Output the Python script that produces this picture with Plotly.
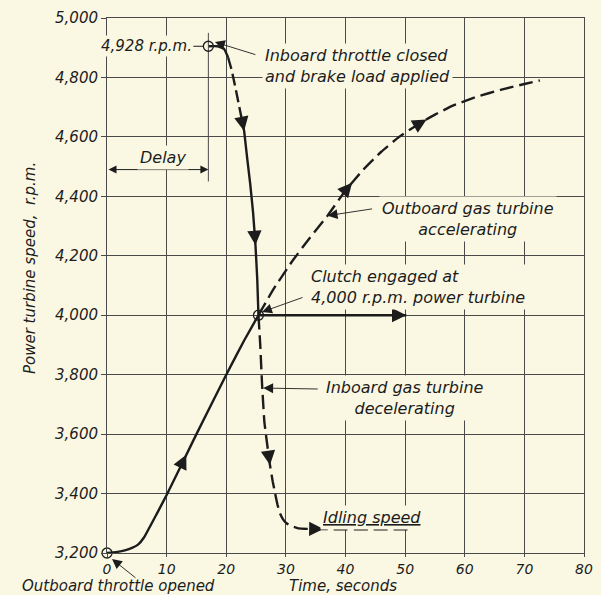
import numpy as np
import plotly.graph_objects as go

# ---------------- data ----------------
x_ticks = [0, 10, 20, 30, 40, 50, 60, 70, 80]
y_ticks = [3200, 3400, 3600, 3800, 4000, 4200, 4400, 4600, 4800, 5000]

outboard_solid_t = [0, 1.5, 3, 4.2, 5.2, 6.2, 8.3, 10, 15, 20, 23, 25.4]
outboard_solid_rpm = [3200, 3203, 3209, 3217, 3228, 3252, 3330, 3395, 3600, 3800, 3915, 4000]

outboard_accel_t = [25.4, 28, 31, 34, 37, 40, 43, 46, 49, 52, 55, 58, 62, 66, 70, 72.6]
outboard_accel_rpm = [4000, 4090, 4180, 4260, 4335, 4420, 4490, 4550, 4600, 4640,
                      4675, 4705, 4735, 4758, 4778, 4790]

inboard_top_t = [17.0, 18.5, 19.6, 20.3, 20.9, 21.6, 22.3, 23.0, 23.5, 24.0, 24.5, 24.9, 25.2, 25.4]
inboard_top_rpm = [4905, 4905, 4897, 4868, 4825, 4760, 4690, 4620, 4530, 4445, 4345, 4235, 4120, 4000]

inboard_decel_t = [25.4, 25.7, 26.0, 26.4, 26.9, 27.3, 27.8, 28.2, 28.6, 29.0, 29.5, 30.1,
                   31.0, 32.1, 34, 38, 44, 51.2]
inboard_decel_rpm = [4000, 3900, 3770, 3640, 3560, 3500, 3440, 3400, 3362, 3334, 3314, 3300,
                     3290, 3283, 3281, 3280, 3280, 3280]

clutch_t = [25.4, 50.2]
clutch_rpm = [4000, 4000]

delay_t = [0, 17.0]
delay_rpm = [4490, 4490]
delay_mark_t = [17.0, 17.0]
delay_mark_rpm = [4450, 4950]

circle_t = [0, 17.0, 25.4]
circle_rpm = [3200, 4905, 4000]

# ---------------- styling ----------------
BG = "#FAF8E3"
INK = "#1c1c1c"
GRID = "#4a4a4a"
FONT = "DejaVu Sans"

X_RANGE = [0, 80]
Y_RANGE = [3200, 5000]
PLOT_W, PLOT_H = 477, 535
SX = PLOT_W / (X_RANGE[1] - X_RANGE[0])
SY = PLOT_H / (Y_RANGE[1] - Y_RANGE[0])

fig = go.Figure()


def add_line(ts, rs, dash="solid", width=2.4, smooth=0.4):
    fig.add_trace(go.Scatter(x=ts, y=rs, mode="lines",
                             line=dict(color=INK, width=width, dash=dash,
                                       shape="spline", smoothing=smooth),
                             hoverinfo="skip", showlegend=False))


def arrow_on(ts, rs, key, value, back=9):
    """Arrow head on a curve: tip where t (or rpm) equals value."""
    t = np.asarray(ts, float)
    r = np.asarray(rs, float)
    px, py = t * SX, r * SY
    seg = np.hypot(np.diff(px), np.diff(py))
    s = np.concatenate([[0], np.cumsum(seg)])
    ref = t if key == "t" else r
    if ref[-1] < ref[0]:
        s_tip = np.interp(value, ref[::-1], s[::-1])
    else:
        s_tip = np.interp(value, ref, s)
    s_tail = max(s_tip - back, 0)
    tip = (np.interp(s_tip, s, t), np.interp(s_tip, s, r))
    tail = (np.interp(s_tail, s, t), np.interp(s_tail, s, r))
    fig.add_annotation(x=tip[0], y=tip[1], ax=tail[0], ay=tail[1],
                       xref="x", yref="y", axref="x", ayref="y", text="",
                       showarrow=True, arrowhead=2, arrowsize=1.3,
                       arrowwidth=2.2, arrowcolor=INK, standoff=0)


# outboard turbine
add_line(outboard_solid_t, outboard_solid_rpm, smooth=0.3)
add_line(outboard_accel_t, outboard_accel_rpm, dash="14px,6px")
# inboard turbine
add_line(inboard_top_t[:4], inboard_top_rpm[:4])
add_line(inboard_top_t[3:8], inboard_top_rpm[3:8], dash="12px,5px")
add_line(inboard_top_t[7:], inboard_top_rpm[7:])
add_line(inboard_decel_t, inboard_decel_rpm, dash="14px,6px")
# clutch line
add_line(clutch_t, clutch_rpm)
# delay marker
fig.add_trace(go.Scatter(x=delay_mark_t, y=delay_mark_rpm, mode="lines",
                         line=dict(color=GRID, width=1), hoverinfo="skip",
                         showlegend=False))
# circles
fig.add_trace(go.Scatter(x=circle_t, y=circle_rpm, mode="markers",
                         marker=dict(symbol="circle-open", size=10,
                                     color=INK, line=dict(width=1.3, color=INK)),
                         cliponaxis=False, hoverinfo="skip", showlegend=False))

# arrow heads on the curves
arrow_on(outboard_solid_t, outboard_solid_rpm, "t", 13.3)
arrow_on(outboard_accel_t, outboard_accel_rpm, "t", 41.1)
arrow_on(outboard_accel_t, outboard_accel_rpm, "t", 53.6)
arrow_on(inboard_top_t, inboard_top_rpm, "r", 4620)
arrow_on(inboard_top_t, inboard_top_rpm, "r", 4236)
arrow_on(inboard_decel_t, inboard_decel_rpm, "r", 3496)
arrow_on(inboard_decel_t, inboard_decel_rpm, "t", 36.3)
arrow_on(clutch_t, clutch_rpm, "t", clutch_t[1])

# delay double arrow
fig.add_annotation(x=delay_t[1], y=delay_rpm[1], ax=delay_t[0], ay=delay_rpm[0],
                   xref="x", yref="y", axref="x", ayref="y", text="",
                   showarrow=True, arrowhead=2, startarrowhead=2, arrowside="end+start",
                   arrowsize=1.6, startarrowsize=1.6, arrowwidth=1, arrowcolor=INK)


def label(text, xp, yp, size=16, align="center", xanchor="center", angle=0, pad=2):
    fig.add_annotation(x=xp, y=yp, xref="paper", yref="paper", text=text,
                       showarrow=False, align=align, xanchor=xanchor,
                       yanchor="middle", textangle=angle, bgcolor=BG, borderpad=pad,
                       font=dict(family=FONT, size=size, color=INK, style="italic"))


def leader(x, y, ax, ay, xref="x", yref="y", head=2):
    fig.add_annotation(x=x, y=y, ax=ax, ay=ay, xref=xref, yref=yref, text="",
                       showarrow=True, arrowhead=head, arrowsize=2.2,
                       arrowwidth=0.9, arrowcolor=INK, standoff=0)


# "4,928 r.p.m."
fig.add_annotation(x=circle_t[1], y=circle_rpm[1], ax=-62, ay=0,
                   text="4,928 r.p.m.",
                   showarrow=True, arrowhead=0, arrowwidth=1.2, arrowcolor=INK,
                   standoff=5, bgcolor=BG, borderpad=1,
                   font=dict(family=FONT, size=15, color=INK, style="italic"))

label("Inboard throttle closed<br>and brake load applied", 0.325, 0.910,
      align="left", xanchor="left")
leader(18.1, 4919, 42, 13)

label("Delay", 0.117, 0.740)

label("Outboard gas turbine<br>accelerating", 0.757, 0.624)
leader(37.0, 4335, 46, -7)

label("Clutch engaged at<br>4,000 r.p.m. power turbine", 0.421, 0.497,
      align="left", xanchor="left")
leader(26.0, 4011, 42, -15)

label("Inboard gas turbine<br>decelerating", 0.625, 0.290)
leader(26.2, 3755, 56, 1)

label("<u>Idling speed</u>", 0.556, 0.067)

label("Outboard throttle opened", 0.024, -0.0615, size=15, pad=0)
leader(0.0105, -0.0112, 25, 20, xref="paper", yref="paper")

label("Time, seconds", 0.495, -0.0615, size=15, pad=0)

label("Power turbine speed,  r.p.m.", -0.161, 0.533, size=15, angle=-90)

axis_common = dict(showgrid=True, gridcolor=GRID, gridwidth=1, zeroline=False,
                   showline=True, linecolor=GRID, linewidth=1, mirror=True,
                   ticks="outside", ticklen=5, tickcolor=GRID, tickwidth=1,
                   tickfont=dict(family=FONT, size=15, color=INK, style="italic"))

fig.update_xaxes(range=X_RANGE, tickvals=x_ticks, **axis_common)
fig.update_xaxes(ticklen=3, tickfont=dict(size=14))
fig.update_yaxes(range=Y_RANGE, tickvals=y_ticks, tickformat=",d", **axis_common)

fig.update_layout(width=601, height=595,
                  margin=dict(l=107, r=17, t=18, b=42, autoexpand=False),
                  paper_bgcolor=BG, plot_bgcolor=BG,
                  font=dict(family=FONT, color=INK, style="italic"),
                  showlegend=False)

fig.write_html("out.html", config={"displayModeBar": False},
               post_script="document.body.style.margin='0';"
                           "document.body.style.padding='0';"
                           "document.body.style.background='" + BG + "';")
